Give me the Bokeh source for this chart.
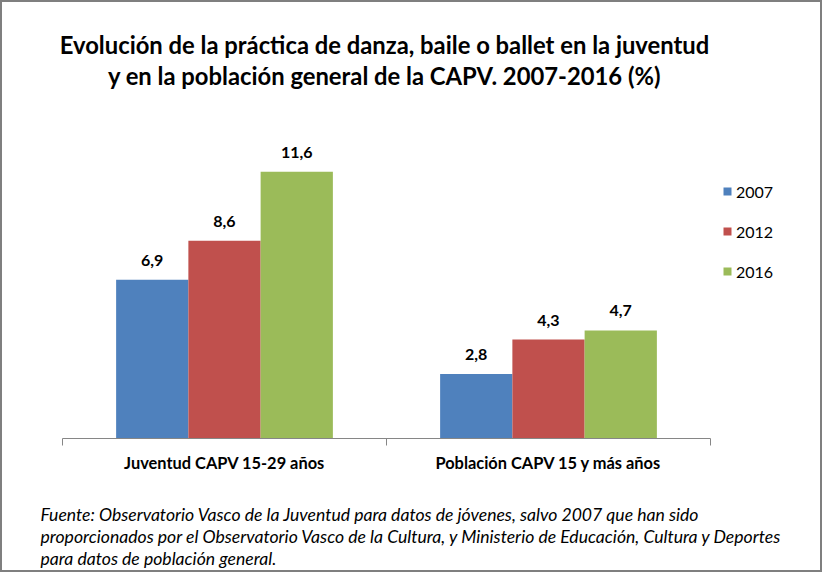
from bokeh.plotting import figure
from bokeh.layouts import column
from bokeh.models import (Range1d, LinearAxis, FixedTicker, ColumnDataSource,
                          LabelSet, Label, Legend, LegendItem)
from bokeh.core.properties import value
from bokeh.transform import dodge
from bokeh.embed import file_html
from bokeh.resources import INLINE

# ---- data ----
title_lines = ["Evolución de la práctica de danza, baile o ballet en la juventud",
               "y en la población general de la CAPV. 2007-2016 (%)"]
categories = ["Juventud CAPV 15-29 años", "Población CAPV 15 y más años"]
years = ["2007", "2012", "2016"]
values_2007 = [6.9, 2.8]
values_2012 = [8.6, 4.3]
values_2016 = [11.6, 4.7]
y_max = 14
source_lines = ["Fuente: Observatorio Vasco de la Juventud para datos de jóvenes, salvo 2007 que han sido",
                "proporcionados por el Observatorio Vasco de la Cultura, y Ministerio de Educación, Cultura y Deportes",
                "para datos de población general."]
colors = ["#4F81BD", "#C0504D", "#9BBB59"]

# ---- layout (pixels) ----
FONT = "Lato"
W = 818
H1, H2 = 480, 88
PLOT_L, PLOT_W = 60, 648          # horizontal extent of the category area
PLOT_TOP, AXIS_Y = 114, 436       # pixel rows of y = y_max and y = 0
ncat = len(categories)
cat_px = PLOT_W / ncat
unit_px = (AXIS_Y - PLOT_TOP) / y_max

p = figure(width=W, height=H1,
           x_range=Range1d(-PLOT_L / cat_px, (W - PLOT_L) / cat_px),
           y_range=Range1d(0, AXIS_Y / unit_px),
           output_backend="svg", toolbar_location=None,
           x_axis_location=None, y_axis_location=None,
           min_border_left=0, min_border_right=0, min_border_top=0,
           min_border_bottom=H1 - AXIS_Y)
p.grid.visible = False
p.outline_line_color = None
p.background_fill_color = "white"
p.border_fill_color = "white"

series = {"2007": values_2007, "2012": values_2012, "2016": values_2016}
data = {"cat": categories, "xc": [i + 0.5 for i in range(ncat)]}
for yr in years:
    data[yr] = series[yr]
    data[yr + "_txt"] = [f"{v:.1f}".replace(".", ",") for v in series[yr]]
src = ColumnDataSource(data)

bar_w = 0.223
offsets = [-bar_w, 0.0, bar_w]
renderers = []
for yr, off, col in zip(years, offsets, colors):
    r = p.vbar(x=dodge("xc", off), top=yr, width=bar_w, source=src,
               fill_color=col, line_color=None)
    renderers.append(r)
    p.add_layout(LabelSet(x=dodge("xc", off), y=yr, text=yr + "_txt",
                          source=src, y_offset=14, text_align="center",
                          text_baseline="alphabetic", text_font=value(FONT),
                          text_font_style=value("bold"), text_font_size=value("16px"),
                          text_color="black"))

# category axis: labels at category centres, tick marks at the boundaries
xaxis = LinearAxis(ticker=FixedTicker(ticks=data["xc"], minor_ticks=list(range(ncat + 1))),
                   major_label_overrides={x: c for x, c in zip(data["xc"], categories)},
                   bounds=(0, ncat),
                   axis_line_color="#868686", axis_line_width=1,
                   major_tick_line_color=None, major_tick_in=0, major_tick_out=0,
                   minor_tick_line_color="#868686", minor_tick_in=0, minor_tick_out=7,
                   major_label_standoff=7,
                   major_label_text_font=FONT, major_label_text_font_style="bold",
                   major_label_text_font_size="16.4px", major_label_text_color="black")
p.add_layout(xaxis, "below")

# legend
legend = Legend(items=[LegendItem(label=yr, renderers=[r]) for yr, r in zip(years, renderers)],
                location=(720, 157), orientation="vertical",
                glyph_width=10, glyph_height=10, label_height=20, spacing=20,
                padding=0, margin=0, border_line_color=None, background_fill_alpha=0,
                label_standoff=4, label_text_font=FONT, label_text_font_size="16px",
                label_text_color="black")
p.add_layout(legend)

# title
for txt, yb in zip(title_lines, [42, 73]):
    p.add_layout(Label(x=382, y=AXIS_Y - yb, x_units="screen", y_units="screen",
                       text=txt, text_align="center", text_baseline="alphabetic",
                       text_font=FONT, text_font_style="bold", text_font_size="23.8px",
                       text_color="black"))

# source note (separate strip below the chart)
p2 = figure(width=W, height=H2, x_range=Range1d(0, 1), y_range=Range1d(0, 1),
            output_backend="svg", toolbar_location=None,
            x_axis_location=None, y_axis_location=None, min_border=0)
p2.grid.visible = False
p2.outline_line_color = None
p2.background_fill_color = "white"
p2.border_fill_color = "white"
for txt, yb in zip(source_lines, [32, 54, 76]):
    p2.add_layout(Label(x=38, y=H2 - yb, x_units="screen", y_units="screen",
                        text=txt, text_align="left", text_baseline="alphabetic",
                        text_font=FONT, text_font_style="italic", text_font_size="17.6px",
                        text_color="black"))

page = column(p, p2, spacing=0, styles={"border": "2px solid #7f7f7f"})
open("out.html", "w").write(file_html(page, INLINE))
